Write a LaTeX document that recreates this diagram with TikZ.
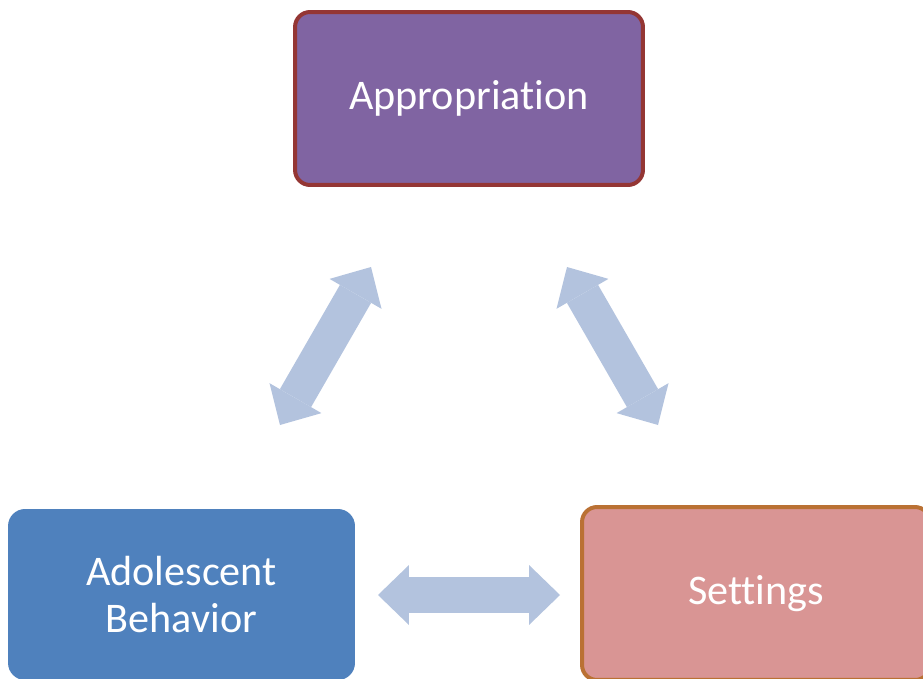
\documentclass[tikz,border=0pt]{standalone}
\usepackage{fontspec}
\setmainfont{Carlito}[Ligatures=NoCommon]
\usepackage{tikz}
\usetikzlibrary{arrows.meta,calc}
\definecolor{approfill}{HTML}{8064A2}
\definecolor{approline}{HTML}{943634}
\definecolor{behavfill}{HTML}{4F81BD}
\definecolor{setfill}{HTML}{D99594}
\definecolor{setline}{HTML}{BA7134}
\definecolor{linkfill}{HTML}{B3C3DE}
\tikzset{
  box/.style={rounded corners=0.3cm, line width=0.08cm, text=white, align=center,
    font=\fontsize{24}{26.6}\selectfont},
  link/.style={draw=linkfill, line width=0.72cm,
    >={Triangle[length=0.62cm,width=1.2cm,line width=0pt]}, <->}
}

\begin{document}
\begin{tikzpicture}[x=0.02cm,y=-0.02cm]
\useasboundingbox (0,0) rectangle (923,679);
\node[box, fill=approfill, draw=approline, minimum width=6.96cm, minimum height=3.46cm] (appro) at (469,98.5) {Appropriation};
\node[box, fill=behavfill, draw=behavfill, minimum width=6.86cm, minimum height=3.34cm] (behav) at (181.5,594.5) {Adolescent\\Behavior};
\node[box, fill=setfill, draw=setline, minimum width=6.96cm, minimum height=3.46cm] (settings) at (756,593.5) {Settings};
% arrow ends
\coordinate (al1) at (280,425);
\coordinate (al2) at (371,267);
\coordinate (ar1) at (567,267);
\coordinate (ar2) at (658,425);
\coordinate (h1) at (378,595);
\coordinate (h2) at (560,595);
\draw[link] (al1) -- (al2);
\draw[link] (ar1) -- (ar2);
\draw[link] (h1) -- (h2);
\end{tikzpicture}
\end{document}
